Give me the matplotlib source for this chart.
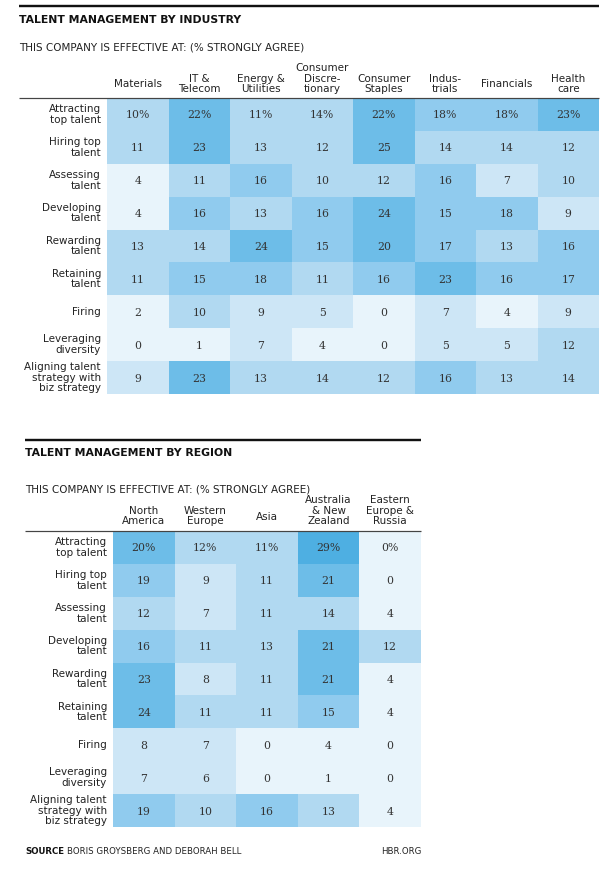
import matplotlib
matplotlib.use("Agg")
import matplotlib.pyplot as plt
import numpy as np
from matplotlib.colors import ListedColormap, BoundaryNorm
from matplotlib.lines import Line2D

# ---------------- data ----------------
row_labels = ["Attracting\ntop talent", "Hiring top\ntalent", "Assessing\ntalent",
              "Developing\ntalent", "Rewarding\ntalent", "Retaining\ntalent", "Firing",
              "Leveraging\ndiversity", "Aligning talent\nstrategy with\nbiz strategy"]

industries = ["Materials", "IT &\nTelecom", "Energy &\nUtilities", "Consumer\nDiscre-\ntionary",
              "Consumer\nStaples", "Indus-\ntrials", "Financials", "Health\ncare"]
attracting_ind = [10, 22, 11, 14, 22, 18, 18, 23]
hiring_ind = [11, 23, 13, 12, 25, 14, 14, 12]
assessing_ind = [4, 11, 16, 10, 12, 16, 7, 10]
developing_ind = [4, 16, 13, 16, 24, 15, 18, 9]
rewarding_ind = [13, 14, 24, 15, 20, 17, 13, 16]
retaining_ind = [11, 15, 18, 11, 16, 23, 16, 17]
firing_ind = [2, 10, 9, 5, 0, 7, 4, 9]
leveraging_ind = [0, 1, 7, 4, 0, 5, 5, 12]
aligning_ind = [9, 23, 13, 14, 12, 16, 13, 14]

regions = ["North\nAmerica", "Western\nEurope", "Asia", "Australia\n& New\nZealand",
           "Eastern\nEurope &\nRussia"]
attracting_reg = [20, 12, 11, 29, 0]
hiring_reg = [19, 9, 11, 21, 0]
assessing_reg = [12, 7, 11, 14, 4]
developing_reg = [16, 11, 13, 21, 12]
rewarding_reg = [23, 8, 11, 21, 4]
retaining_reg = [24, 11, 11, 15, 4]
firing_reg = [8, 7, 0, 4, 0]
leveraging_reg = [7, 6, 0, 1, 0]
aligning_reg = [19, 10, 16, 13, 4]

ind_values = np.array([attracting_ind, hiring_ind, assessing_ind, developing_ind, rewarding_ind,
                       retaining_ind, firing_ind, leveraging_ind, aligning_ind])
reg_values = np.array([attracting_reg, hiring_reg, assessing_reg, developing_reg, rewarding_reg,
                       retaining_reg, firing_reg, leveraging_reg, aligning_reg])

# ---------------- style ----------------
W, H = 607, 876
fig = plt.figure(figsize=(W / 100, H / 100), dpi=100)
fig.patch.set_facecolor("white")

cmap = ListedColormap(["#e8f4fb", "#cde6f6", "#b1d9f1", "#90cbee", "#6dbde8", "#4eafe2"])
norm = BoundaryNorm([0, 5, 10, 15, 20, 26, 100], cmap.N)

SANS = "DejaVu Sans"
SERIF = "DejaVu Serif"
TXT = "#222222"
NUM = "#333333"
LAB_FS = 7.5
NUM_FS = 7.8


def fx(x):
    return x / W


def fy(y):
    return 1 - y / H


def hline(x0, x1, y, lw_px, color):
    fig.add_artist(Line2D([fx(x0), fx(x1)], [fy(y), fy(y)], transform=fig.transFigure,
                          color=color, lw=lw_px * 72 / 100, solid_capstyle="butt"))


def draw_table(values, cols, left, right, top, bottom, sec_left, rule_right, rule_y,
               title, title_y, sub_y, head_single_base, head_multi_base, label_x):
    ncol = len(cols)
    nrow = len(row_labels)
    hline(sec_left, rule_right, rule_y, 2.4, "#111111")
    fig.text(fx(sec_left), fy(title_y), title, fontsize=7.8, fontweight="bold",
             family=SANS, color="#111111", va="center", ha="left")
    fig.text(fx(sec_left), fy(sub_y), "THIS COMPANY IS EFFECTIVE AT: (% STRONGLY AGREE)",
             fontsize=7.5, family=SANS, color=TXT, va="center", ha="left")
    hline(sec_left, right, top, 1.2, "#444444")

    ax = fig.add_axes([fx(left), fy(bottom), fx(right) - fx(left), fy(top) - fy(bottom)])
    ax.pcolormesh(np.arange(ncol + 1), np.arange(nrow + 1), values, cmap=cmap, norm=norm)
    ax.set_xlim(0, ncol)
    ax.set_ylim(nrow, 0)
    ax.axis("off")

    for i in range(nrow):
        for j in range(ncol):
            v = values[i, j]
            s = f"{v}%" if i == 0 else f"{v}"
            ax.text(j + 0.5, i + 0.53, s, ha="center", va="center", fontsize=NUM_FS,
                    family=SERIF, color=NUM)
    colw = (right - left) / ncol
    for j, c in enumerate(cols):
        xc = left + colw * (j + 0.5)
        base = head_single_base if "\n" not in c else head_multi_base
        fig.text(fx(xc), fy(base), c, ha="center", va="baseline", fontsize=LAB_FS,
                 family=SANS, color=TXT, linespacing=1.08, multialignment="center")
    rowh = (bottom - top) / nrow
    for i, r in enumerate(row_labels):
        yc = top + rowh * (i + 0.5)
        fig.text(fx(label_x), fy(yc), r, ha="right", va="center", fontsize=LAB_FS,
                 family=SANS, color=TXT, linespacing=1.08, multialignment="right")


draw_table(ind_values, industries, 107, 599, 98, 394, 19, 599, 6,
           "TALENT MANAGEMENT BY INDUSTRY", 20, 48, 87, 92.5, 101)
draw_table(reg_values, regions, 113, 421, 531, 827, 25, 421, 440,
           "TALENT MANAGEMENT BY REGION", 453, 489, 520, 524.5, 107)

# footer
src = fig.text(fx(25), fy(851), "SOURCE", fontsize=6.2, fontweight="bold", family=SANS,
               color="#111111", va="center", ha="left")
fig.canvas.draw()
bb = src.get_window_extent(renderer=fig.canvas.get_renderer())
x_after = bb.x1 / fig.dpi / fig.get_figwidth() * 1.0 + 3 / W
fig.text(x_after, fy(851), "BORIS GROYSBERG AND DEBORAH BELL", fontsize=6.2, family=SANS,
         color=TXT, va="center", ha="left")
fig.text(fx(421), fy(851), "HBR.ORG", fontsize=6.2, family=SANS, color=TXT,
         va="center", ha="right")

fig.savefig("out.png", dpi=100, facecolor="white")
